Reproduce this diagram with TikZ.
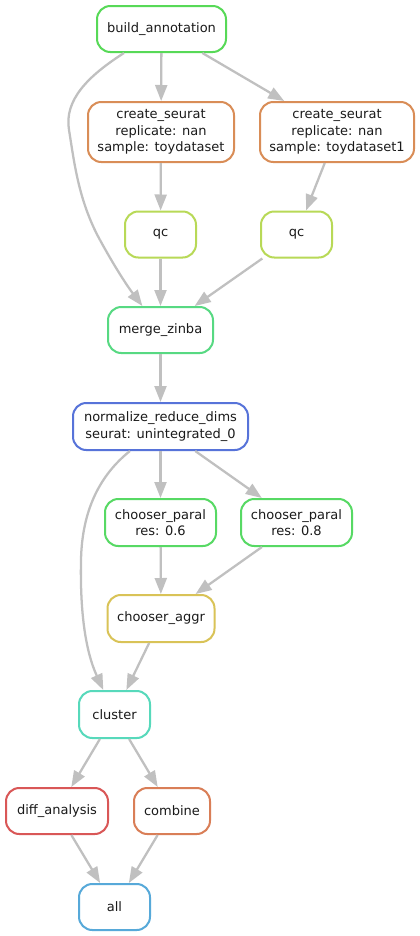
\documentclass[tikz,border=0pt]{standalone}
\usepackage{fontspec}
\setmainfont{DejaVu Sans}
\usetikzlibrary{arrows.meta}
\definecolor{edgegray}{RGB}{192,192,192}
\definecolor{cBuild}{RGB}{87,217,87}
\definecolor{cCs}{RGB}{217,141,87}
\definecolor{cQc}{RGB}{184,217,87}
\definecolor{cMerge}{RGB}{87,217,130}
\definecolor{cNorm}{RGB}{87,115,217}
\definecolor{cCp}{RGB}{87,217,100}
\definecolor{cAggr}{RGB}{217,195,87}
\definecolor{cCluster}{RGB}{87,217,187}
\definecolor{cDiff}{RGB}{217,87,87}
\definecolor{cComb}{RGB}{217,126,87}
\definecolor{cAll}{RGB}{87,169,217}
\definecolor{txt}{RGB}{26,26,26}
\begin{document}
\begin{tikzpicture}[x=0.75pt,y=-0.75pt,
  box/.style n args={3}{draw=#3, line width=1.5pt, rounded corners=10pt, fill=white,
    minimum width={(#1)*0.75pt-1.5pt}, minimum height={(#2)*0.75pt-1.5pt},
    inner sep=0pt, align=center, text=txt,
    font=\fontsize{9.75}{12.5}\selectfont},
  edge/.style={draw=edgegray, line width=1.7pt,
    -{Triangle[length=12pt,width=9pt,fill=edgegray]}}]
\useasboundingbox (0,0) rectangle (420,936);
\fill[white] (0,0) rectangle (420,936);
\node[box={131}{48}{cBuild}] (build) at (161.5,29) {build\_annotation};
\node[box={148}{62}{cCs}] (cs1) at (161,132) {create\_seurat\\replicate: nan\\sample: toydataset};
\node[box={156}{62}{cCs}] (cs2) at (337,132) {create\_seurat\\replicate: nan\\sample: toydataset1};
\node[box={73}{48}{cQc}] (qc1) at (160.5,234.5) {qc};
\node[box={73}{48}{cQc}] (qc2) at (296.5,234.5) {qc};
\node[box={107}{48}{cMerge}] (merge) at (160.5,330) {merge\_zinba};
\node[box={177}{49}{cNorm}] (norm) at (160.5,426.5) {normalize\_reduce\_dims\\seurat: unintegrated\_0};
\node[box={113}{49}{cCp}] (cp1) at (160.5,522.5) {chooser\_paral\\res: 0.6};
\node[box={113}{49}{cCp}] (cp2) at (296.5,522.5) {chooser\_paral\\res: 0.8};
\node[box={109}{49}{cAggr}] (aggr) at (161,618.5) {chooser\_aggr};
\node[box={73}{49}{cCluster}] (cluster) at (114.5,714.5) {cluster};
\node[box={104}{48}{cDiff}] (diff) at (57,811) {diff\_analysis};
\node[box={78}{48}{cComb}] (combine) at (172,811) {combine};
\node[box={73}{48}{cAll}] (all) at (114.5,907) {all};
\coordinate (w1) at (69,130);
\coordinate (w2) at (100,240);
\coordinate (w3) at (81,560);
\draw[edge] (build) -- (cs1);
\draw[edge] (build) -- (cs2);
\draw[edge, -] (build) .. controls (88,76) and (64,100) .. (w1)
  .. controls (74,160) and (78,200) .. (w2);
\draw[edge] (w2) .. controls (112,262) and (125,283) .. (merge);
\draw[edge] (cs1) -- (qc1);
\draw[edge] (cs2) -- (qc2);
\draw[edge] (qc1) -- (merge);
\draw[edge] (qc2) -- (merge);
\draw[edge] (merge) -- (norm);
\draw[edge] (norm) -- (cp1);
\draw[edge] (norm) -- (cp2);
\draw[edge, -] (norm) .. controls (100,475) and (82,510) .. (w3);
\draw[edge] (w3) .. controls (80,610) and (85,650) .. (cluster);
\draw[edge] (cp1) -- (aggr);
\draw[edge] (cp2) -- (aggr);
\draw[edge] (aggr) -- (cluster);
\draw[edge] (cluster) -- (diff);
\draw[edge] (cluster) -- (combine);
\draw[edge] (diff) -- (all);
\draw[edge] (combine) -- (all);
\end{tikzpicture}
\end{document}
